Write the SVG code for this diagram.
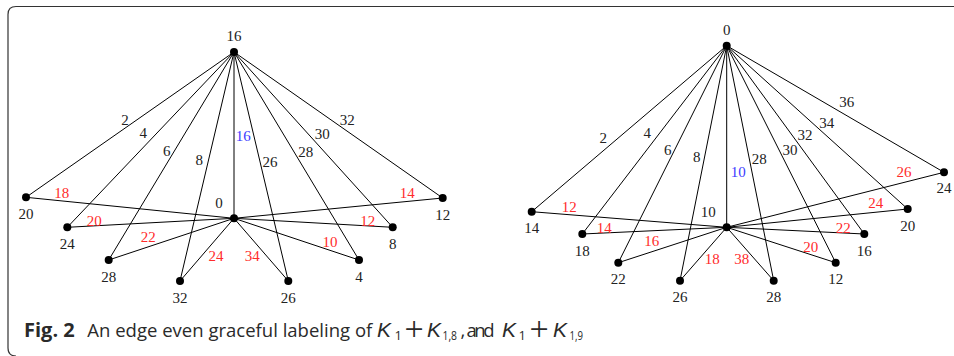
<svg xmlns="http://www.w3.org/2000/svg" width="954" height="356" viewBox="0 0 954 356">
<style>
.frame{fill:none;stroke:#333;stroke-width:1.2}
.e{stroke:#000;stroke-width:1}
.dot{fill:#000}
.nl{font-family:"Liberation Serif","DejaVu Serif",serif;font-size:15px;fill:#222;text-anchor:middle}
.el{font-family:"Liberation Serif","DejaVu Serif",serif;font-size:15px;fill:#222;text-anchor:middle}
.r{fill:#ff2b2b}
.b{fill:#3c3cff}
.cap{font-family:"Open Sans","Liberation Sans",sans-serif;font-size:18.5px;fill:#2a2a2a}
.bold{font-weight:bold;font-size:20px}
.it{font-family:"Liberation Sans",sans-serif;font-style:italic;font-size:21px}
.sub{font-size:13px}
.plus{font-family:"Liberation Serif",serif;font-size:34px}
</style>
<rect width="954" height="356" fill="#fff"/>
<path class="frame" d="M954 6.5 H16 Q8 6.5 8 14.5 V348 Q8 356 16 356"/>

<g id="connectors">
  <!-- left graph: top 16 (234,52), center 0 (234,218.3) -->
  <line class="e" x1="234" y1="52" x2="26" y2="197.3"/>
  <line class="e" x1="234" y1="52" x2="67.3" y2="227.3"/>
  <line class="e" x1="234" y1="52" x2="108.7" y2="260"/>
  <line class="e" x1="234" y1="52" x2="180" y2="281"/>
  <line class="e" x1="234" y1="52" x2="234" y2="218.3"/>
  <line class="e" x1="234" y1="52" x2="288.3" y2="281"/>
  <line class="e" x1="234" y1="52" x2="359" y2="260"/>
  <line class="e" x1="234" y1="52" x2="392.7" y2="227.3"/>
  <line class="e" x1="234" y1="52" x2="442.7" y2="198"/>
  <line class="e" x1="234" y1="218.3" x2="26" y2="197.3"/>
  <line class="e" x1="234" y1="218.3" x2="67.3" y2="227.3"/>
  <line class="e" x1="234" y1="218.3" x2="108.7" y2="260"/>
  <line class="e" x1="234" y1="218.3" x2="180" y2="281"/>
  <line class="e" x1="234" y1="218.3" x2="288.3" y2="281"/>
  <line class="e" x1="234" y1="218.3" x2="359" y2="260"/>
  <line class="e" x1="234" y1="218.3" x2="392.7" y2="227.3"/>
  <line class="e" x1="234" y1="218.3" x2="442.7" y2="198"/>
  <!-- right graph: top 0 (726.7,45.7), center 10 (726.7,227.3) -->
  <line class="e" x1="726.7" y1="45.7" x2="531.7" y2="211.7"/>
  <line class="e" x1="726.7" y1="45.7" x2="582.3" y2="234"/>
  <line class="e" x1="726.7" y1="45.7" x2="618.3" y2="262.7"/>
  <line class="e" x1="726.7" y1="45.7" x2="680" y2="280.7"/>
  <line class="e" x1="726.7" y1="45.7" x2="726.7" y2="227.3"/>
  <line class="e" x1="726.7" y1="45.7" x2="773.7" y2="280.7"/>
  <line class="e" x1="726.7" y1="45.7" x2="835.7" y2="262.7"/>
  <line class="e" x1="726.7" y1="45.7" x2="864.3" y2="234"/>
  <line class="e" x1="726.7" y1="45.7" x2="907.7" y2="209"/>
  <line class="e" x1="726.7" y1="45.7" x2="944" y2="172.3"/>
  <line class="e" x1="726.7" y1="227.3" x2="531.7" y2="211.7"/>
  <line class="e" x1="726.7" y1="227.3" x2="582.3" y2="234"/>
  <line class="e" x1="726.7" y1="227.3" x2="618.3" y2="262.7"/>
  <line class="e" x1="726.7" y1="227.3" x2="680" y2="280.7"/>
  <line class="e" x1="726.7" y1="227.3" x2="773.7" y2="280.7"/>
  <line class="e" x1="726.7" y1="227.3" x2="835.7" y2="262.7"/>
  <line class="e" x1="726.7" y1="227.3" x2="864.3" y2="234"/>
  <line class="e" x1="726.7" y1="227.3" x2="907.7" y2="209"/>
  <line class="e" x1="726.7" y1="227.3" x2="944" y2="172.3"/>

  <!-- left edge labels -->
  <text class="el" x="125" y="125">2</text>
  <text class="el" x="143.3" y="137.7">4</text>
  <text class="el" x="166.7" y="156">6</text>
  <text class="el" x="199.3" y="165">8</text>
  <text class="el b" x="243.3" y="140.7">16</text>
  <text class="el" x="270" y="166.7">26</text>
  <text class="el" x="305.7" y="156.7">28</text>
  <text class="el" x="322.3" y="139.3">30</text>
  <text class="el" x="347.3" y="125">32</text>
  <text class="el r" x="61.7" y="198.3">18</text>
  <text class="el r" x="94.3" y="225.7">20</text>
  <text class="el r" x="148.3" y="241.7">22</text>
  <text class="el r" x="216" y="261">24</text>
  <text class="el r" x="252.3" y="261">34</text>
  <text class="el r" x="330" y="247.3">10</text>
  <text class="el r" x="367.7" y="225.7">12</text>
  <text class="el r" x="407.3" y="198.3">14</text>
  <!-- right edge labels -->
  <text class="el" x="603.3" y="143.3">2</text>
  <text class="el" x="647.3" y="138.3">4</text>
  <text class="el" x="667.7" y="155">6</text>
  <text class="el" x="696.7" y="161.7">8</text>
  <text class="el b" x="738.3" y="176.7">10</text>
  <text class="el" x="759.3" y="164">28</text>
  <text class="el" x="790" y="155">30</text>
  <text class="el" x="805" y="140">32</text>
  <text class="el" x="826.7" y="127.7">34</text>
  <text class="el" x="846.7" y="107.3">36</text>
  <text class="el r" x="569.3" y="211.7">12</text>
  <text class="el r" x="604.3" y="233.3">14</text>
  <text class="el r" x="651.7" y="246">16</text>
  <text class="el r" x="712.3" y="264.3">18</text>
  <text class="el r" x="741.7" y="264.3">38</text>
  <text class="el r" x="810.7" y="251.7">20</text>
  <text class="el r" x="843.3" y="233.3">22</text>
  <text class="el r" x="875.7" y="208.3">24</text>
  <text class="el r" x="904" y="177.3">26</text>
</g>

<!-- left graph nodes -->
<g id="L-top-16"><circle class="dot" cx="234" cy="52" r="4"/><text class="nl" x="234" y="41">16</text></g>
<g id="L-center-0"><circle class="dot" cx="234" cy="218.3" r="4"/><text class="nl" x="219" y="208.3">0</text></g>
<g id="L-20"><circle class="dot" cx="26" cy="197.3" r="4"/><text class="nl" x="26" y="219">20</text></g>
<g id="L-24"><circle class="dot" cx="67.3" cy="227.3" r="4"/><text class="nl" x="67.3" y="249">24</text></g>
<g id="L-28"><circle class="dot" cx="108.7" cy="260" r="4"/><text class="nl" x="108.7" y="281.5">28</text></g>
<g id="L-32"><circle class="dot" cx="180" cy="281" r="4"/><text class="nl" x="180" y="302.5">32</text></g>
<g id="L-26"><circle class="dot" cx="288.3" cy="281" r="4"/><text class="nl" x="288.3" y="302.5">26</text></g>
<g id="L-4"><circle class="dot" cx="359" cy="260" r="4"/><text class="nl" x="359" y="281.5">4</text></g>
<g id="L-8"><circle class="dot" cx="392.7" cy="227.3" r="4"/><text class="nl" x="392.7" y="249">8</text></g>
<g id="L-12"><circle class="dot" cx="442.7" cy="198" r="4"/><text class="nl" x="442.7" y="219.5">12</text></g>

<!-- right graph nodes -->
<g id="R-top-0"><circle class="dot" cx="726.7" cy="45.7" r="4"/><text class="nl" x="726.7" y="35">0</text></g>
<g id="R-center-10"><circle class="dot" cx="726.7" cy="227.3" r="4"/><text class="nl" x="708.3" y="216.7">10</text></g>
<g id="R-14"><circle class="dot" cx="531.7" cy="211.7" r="4"/><text class="nl" x="531.7" y="233">14</text></g>
<g id="R-18"><circle class="dot" cx="582.3" cy="234" r="4"/><text class="nl" x="582.3" y="255.5">18</text></g>
<g id="R-22"><circle class="dot" cx="618.3" cy="262.7" r="4"/><text class="nl" x="618.3" y="284">22</text></g>
<g id="R-26"><circle class="dot" cx="680" cy="280.7" r="4"/><text class="nl" x="680" y="302">26</text></g>
<g id="R-28"><circle class="dot" cx="773.7" cy="280.7" r="4"/><text class="nl" x="773.7" y="302">28</text></g>
<g id="R-12"><circle class="dot" cx="835.7" cy="262.7" r="4"/><text class="nl" x="835.7" y="284">12</text></g>
<g id="R-16"><circle class="dot" cx="864.3" cy="234" r="4"/><text class="nl" x="864.3" y="255.5">16</text></g>
<g id="R-20"><circle class="dot" cx="907.7" cy="209" r="4"/><text class="nl" x="907.7" y="230.5">20</text></g>
<g id="R-24"><circle class="dot" cx="944" cy="172.3" r="4"/><text class="nl" x="944" y="193.3">24</text></g>

<g id="caption">
<text class="cap" y="336.5"><tspan class="bold" x="24">Fig. 2</tspan><tspan x="87.3" textLength="285" lengthAdjust="spacing">An edge even graceful labeling of</tspan><tspan class="it" x="377">K</tspan><tspan class="sub" x="394.5" y="339.5">1</tspan><tspan class="plus" x="404.5" y="340">+</tspan><tspan class="it" x="427" y="336.5">K</tspan><tspan class="sub" x="442.5" y="339.5" textLength="14.5" lengthAdjust="spacingAndGlyphs">1,8</tspan><tspan x="460.5" y="336.5">,</tspan><tspan x="466.5" textLength="28" lengthAdjust="spacing">and</tspan><tspan class="it" x="502">K</tspan><tspan class="sub" x="518.5" y="339.5">1</tspan><tspan class="plus" x="529.5" y="340">+</tspan><tspan class="it" x="553" y="336.5">K</tspan><tspan class="sub" x="569.5" y="339.5" textLength="13.5" lengthAdjust="spacingAndGlyphs">1,9</tspan></text>
</g>
</svg>
